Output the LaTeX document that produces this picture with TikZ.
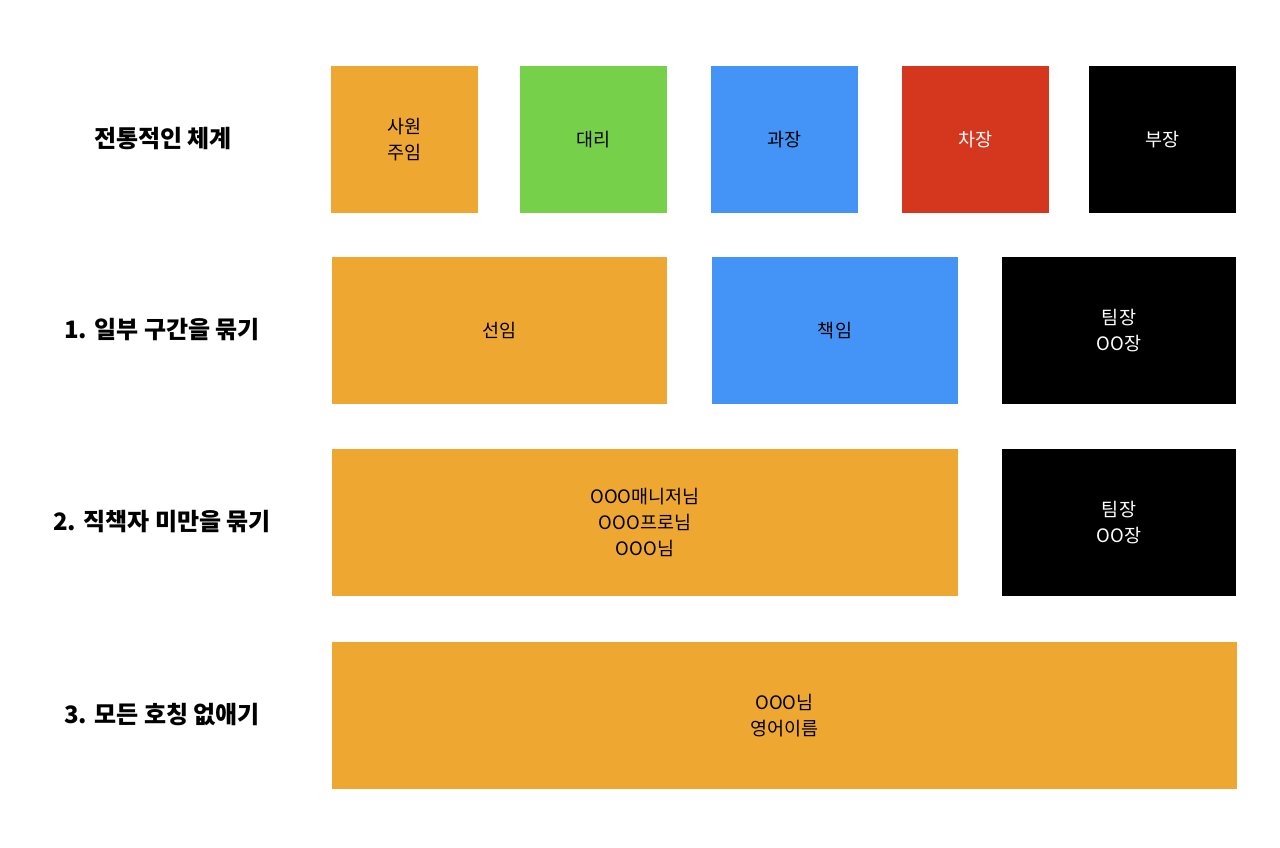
\documentclass[tikz,border=0pt]{standalone}
\usepackage{fontspec}
\setmainfont{Noto Sans CJK KR}
\definecolor{cOrange}{HTML}{EEA831}
\definecolor{cGreen}{HTML}{76D04A}
\definecolor{cBlue}{HTML}{4494F7}
\definecolor{cRed}{HTML}{D5361E}
\begin{document}
\begin{tikzpicture}[x=1pt,y=-1pt,
  box/.style={fill=#1,draw=none},
  boxtext/.style={font=\fontsize{18.5}{26}\selectfont,align=center,text=black},
  boxwhite/.style={boxtext,text=white},
  rowlabel/.style={font=\fontsize{24}{28}\selectfont\bfseries,align=center}]
\useasboundingbox[fill=white] (0,0) rectangle (1280,848);
% row 0
\path[box=cOrange] (331,66) rectangle (478,213);
\node[boxtext] (b1) at (404.5,139.5) {사원\\주임};
\path[box=cGreen] (520,66) rectangle (667,213);
\node[boxtext] (b2) at (593.5,139.5) {대리};
\path[box=cBlue] (711,66) rectangle (858,213);
\node[boxtext] (b3) at (784.5,139.5) {과장};
\path[box=cRed] (902,66) rectangle (1049,213);
\node[boxwhite] (b4) at (975.5,139.5) {차장};
\path[box=black] (1089,66) rectangle (1236,213);
\node[boxwhite] (b5) at (1162.5,139.5) {부장};
% row 1
\path[box=cOrange] (332,257) rectangle (667,404);
\node[boxtext] (c1) at (499.5,330.5) {선임};
\path[box=cBlue] (712,257) rectangle (958,404);
\node[boxtext] (c2) at (835,330.5) {책임};
\path[box=black] (1002,257) rectangle (1236,404);
\node[boxwhite] (c3) at (1119,330.5) {팀장\\OO장};
% row 2
\path[box=cOrange] (332,449) rectangle (958,596);
\node[boxtext] (d1) at (645,522.5) {OOO매니저님\\OOO프로님\\OOO님};
\path[box=black] (1002,449) rectangle (1236,596);
\node[boxwhite] (d2) at (1119,522.5) {팀장\\OO장};
% row 3
\path[box=cOrange] (332,642) rectangle (1237,789);
\node[boxtext] (e1) at (784.5,715.5) {OOO님\\영어이름};
% labels
\node[rowlabel] (l0) at (163,139) {전통적인 체계};
\node[rowlabel] (l1) at (162,330) {1. 일부 구간을 묶기};
\node[rowlabel] (l2) at (162,522) {2. 직책자 미만을 묶기};
\node[rowlabel] (l3) at (162,715) {3. 모든 호칭 없애기};
\end{tikzpicture}
\end{document}
